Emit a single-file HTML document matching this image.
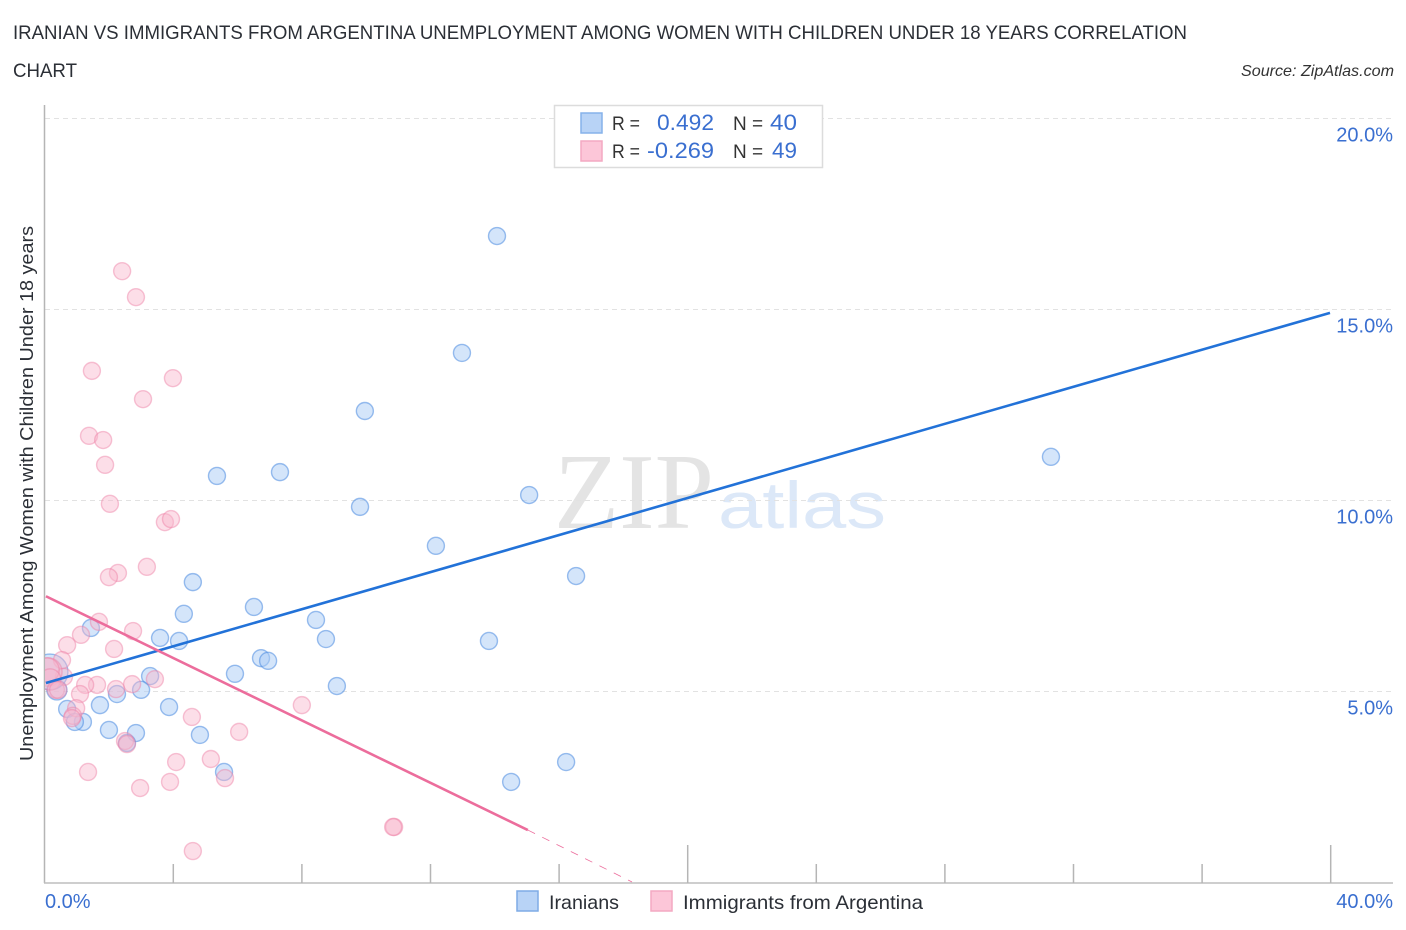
<!DOCTYPE html>
<html lang="en">
<head>
<meta charset="utf-8">
<title>Iranian vs Immigrants from Argentina Unemployment Chart</title>
<style>
html,body{margin:0;padding:0;background:#fff;width:1406px;height:930px;overflow:hidden}
svg{display:block;font-family:"Liberation Sans",sans-serif}
</style>
</head>
<body>
<svg id="chart" xmlns="http://www.w3.org/2000/svg" width="1406" height="930" viewBox="0 0 1406 930">
  <defs><clipPath id="plot-clip"><rect x="45" y="100" width="1350" height="782"/></clipPath></defs>
  <text x="13" y="39" font-size="19" fill="#2b2f36" textLength="1174" lengthAdjust="spacingAndGlyphs">IRANIAN VS IMMIGRANTS FROM ARGENTINA UNEMPLOYMENT AMONG WOMEN WITH CHILDREN UNDER 18 YEARS CORRELATION</text>
  <text x="13" y="77" font-size="19" fill="#2b2f36" textLength="64" lengthAdjust="spacingAndGlyphs">CHART</text>
  <text x="1241" y="76" font-size="16" font-style="italic" fill="#333" textLength="153" lengthAdjust="spacingAndGlyphs">Source: ZipAtlas.com</text>
  <text x="554" y="528" font-family="'Liberation Serif',serif" font-size="108" fill="#e4e4e4" textLength="160" lengthAdjust="spacingAndGlyphs">ZIP</text>
  <text x="718" y="528" font-family="'Liberation Sans',sans-serif" font-size="66" fill="#dce8f8" textLength="168" lengthAdjust="spacingAndGlyphs">atlas</text>
  <g id="grid"></g>
  <g id="axes"></g>
  <g id="blue-points" clip-path="url(#plot-clip)"></g>
  <g id="pink-points" clip-path="url(#plot-clip)"></g>
  <g id="trends"></g>
  <g>
    <rect x="554.5" y="105.5" width="268" height="62" fill="#fff" stroke="#dcdcdc" stroke-width="1.5"/>
    <rect x="581" y="113" width="21" height="20" fill="#b8d3f6" stroke="#86b2ea" stroke-width="1.5"/>
    <rect x="581" y="141" width="21" height="20" fill="#fcc6d8" stroke="#f4a9c2" stroke-width="1.5"/>
    <text x="612" y="130" font-size="19" fill="#333" textLength="28" lengthAdjust="spacingAndGlyphs">R =</text>
    <text x="657" y="130" font-size="22" fill="#3a6fd0" textLength="57" lengthAdjust="spacingAndGlyphs">0.492</text>
    <text x="733" y="130" font-size="19" fill="#333">N =</text>
    <text x="770" y="130" font-size="22" fill="#3a6fd0" textLength="27" lengthAdjust="spacingAndGlyphs">40</text>
    <text x="612" y="158" font-size="19" fill="#333" textLength="28" lengthAdjust="spacingAndGlyphs">R =</text>
    <text x="647" y="158" font-size="22" fill="#3a6fd0" textLength="67" lengthAdjust="spacingAndGlyphs">-0.269</text>
    <text x="733" y="158" font-size="19" fill="#333">N =</text>
    <text x="772" y="158" font-size="22" fill="#3a6fd0" textLength="25" lengthAdjust="spacingAndGlyphs">49</text>
  </g>
  <g>
    <rect x="517" y="891" width="21" height="20" fill="#b8d3f6" stroke="#7fabe6" stroke-width="1.5"/>
    <text x="549" y="909" font-size="19.5" fill="#2b2f36" textLength="70" lengthAdjust="spacingAndGlyphs">Iranians</text>
    <rect x="651" y="891" width="21" height="20" fill="#fcc6d8" stroke="#f4a9c2" stroke-width="1.5"/>
    <text x="683" y="909" font-size="19.5" fill="#2b2f36" textLength="240" lengthAdjust="spacingAndGlyphs">Immigrants from Argentina</text>
  </g>
  <text transform="translate(33,761) rotate(-90)" font-size="18.5" fill="#2b2f36" textLength="535" lengthAdjust="spacingAndGlyphs">Unemployment Among Women with Children Under 18 years</text>
</svg>
<script>
const yTickValues = [5, 10, 15, 20];
const yTickLabels = ["5.0%", "10.0%", "15.0%", "20.0%"];
const xTickValues = [0, 4, 8, 12, 16, 20, 24, 28, 32, 36, 40];
const xMajorTicks = [20, 40];
const xEndValues = [0, 40];
const xEndLabels = ["0.0%", "40.0%"];

const iranianX = [14.09,13.00,9.98,31.32,5.38,7.34,15.09,9.83,12.19,16.55,4.63,6.53,4.35,8.46,1.46,8.77,3.61,4.20,13.84,6.75,6.97,5.94,9.11,3.30,3.02,2.27,0.40,3.89,1.74,0.72,1.21,0.96,2.02,2.86,4.85,2.58,5.60,14.53,16.24,0.19];
const iranianY = [16.91,13.85,12.33,11.13,10.63,10.73,10.13,9.82,8.80,8.01,7.85,7.20,7.02,6.86,6.65,6.36,6.39,6.31,6.31,5.86,5.79,5.45,5.13,5.39,5.03,4.92,5.03,4.58,4.63,4.53,4.19,4.19,3.98,3.90,3.85,3.64,2.88,2.62,3.14,5.50];
const iranianWeight = [1,1,1,1,1,1,1,1,1,1,1,1,1,1,1,1,1,1,1,1,1,1,1,1,1,1,1.4,1,1,1,1,1,1,1,1,1,1,1,1,4.4];

const argentinaX = [2.43,2.86,1.49,4.01,3.08,1.40,1.84,1.90,2.05,3.76,3.95,3.20,2.30,2.02,1.71,2.77,1.15,0.72,2.18,0.56,0.62,3.45,2.74,1.65,1.28,2.24,1.12,8.02,4.60,1.00,0.90,0.87,6.07,2.52,2.58,5.19,4.11,1.37,5.63,3.92,2.99,10.89,10.86,4.63,0.12,0.10,0.19,0.37,0.44];
const argentinaY = [15.99,15.31,13.38,13.19,12.64,11.68,11.57,10.92,9.90,9.42,9.50,8.25,8.09,7.98,6.81,6.57,6.47,6.20,6.10,5.81,5.37,5.31,5.18,5.16,5.16,5.05,4.92,4.63,4.32,4.55,4.35,4.29,3.93,3.69,3.61,3.22,3.14,2.88,2.72,2.62,2.46,1.44,1.44,0.81,5.50,5.55,5.30,5.03,5.03];
const argentinaWeight = [1,1,1,1,1,1,1,1,1,1,1,1,1,1,1,1,1,1,1,1,1,1,1,1,1,1,1,1,1,1,1,1,1,1,1,1,1,1,1,1,1,1,1,1,2.8,2,1.6,1,1];

const iranianTrendX = [0.06, 40];
const iranianTrendY = [5.21, 14.9];
const argentinaTrendX = [0.06, 15.05];
const argentinaTrendY = [7.48, 1.36];
const argentinaDashX = [15.05, 18.29];
const argentinaDashY = [1.36, 0];

const NS = 'http://www.w3.org/2000/svg';
const sx = v => 44 + v * 32.15;
const sy = v => 882 - v * 38.2;
const rOf = w => 8.5 * Math.sqrt(w);

function make(parent, tag, attrs, text) {
  const el = document.createElementNS(NS, tag);
  for (const k in attrs) el.setAttribute(k, attrs[k]);
  if (text !== undefined) el.textContent = text;
  parent.appendChild(el);
  return el;
}

const gridG = document.getElementById('grid');
const axesG = document.getElementById('axes');

yTickValues.forEach((v, i) => {
  const line = make(gridG, 'line', {x1: 45, x2: 1393, y1: sy(v) + 0.5, y2: sy(v) + 0.5, stroke: '#e2e2e2', 'stroke-width': 1, 'stroke-dasharray': '5 4'});
  
  
  const label = make(axesG, 'text', {x: 1393, y: sy(v) + 23.5, 'font-size': 20, fill: '#3a6fd0', 'text-anchor': 'end'}, yTickLabels[i]);
  
  
});

const yAxis = make(axesG, 'line', {x1: 44.5, x2: 44.5, y1: 105, y2: 883, stroke: '#b5b5b5', 'stroke-width': 1.5});


const xAxis = make(axesG, 'line', {x1: 44, x2: 1393, y1: 883, y2: 883, stroke: '#bdbdbd', 'stroke-width': 1.5});



xTickValues.forEach(v => {
  if (v === 0) return;
  const top = xMajorTicks.includes(v) ? 845 : 864;
  const tick = make(axesG, 'line', {x1: sx(v) + 0.7, x2: sx(v) + 0.7, y1: top, y2: 883, stroke: '#b5b5b5', 'stroke-width': 1.5});
  
  
});

xEndValues.forEach((v, i) => {
  const attrs = v === 0
    ? {x: sx(v) + 1, y: 908, 'font-size': 20, fill: '#3a6fd0'}
    : {x: 1393, y: 908, 'font-size': 20, fill: '#3a6fd0', 'text-anchor': 'end'};
  const label = make(axesG, 'text', attrs, xEndLabels[i]);
  
  
});

const blueG = document.getElementById('blue-points');
iranianX.forEach((x, i) => {
  const dot = make(blueG, 'circle', {cx: sx(x), cy: sy(iranianY[i]), r: rOf(iranianWeight[i]), fill: '#a9cbf5', 'fill-opacity': 0.5, stroke: '#4a8ae0', 'stroke-opacity': 0.55, 'stroke-width': 1.4});
  
  
});

const pinkG = document.getElementById('pink-points');
argentinaX.forEach((x, i) => {
  const dot = make(pinkG, 'circle', {cx: sx(x), cy: sy(argentinaY[i]), r: rOf(argentinaWeight[i]), fill: '#f9b6cc', 'fill-opacity': 0.45, stroke: '#ee7ea3', 'stroke-opacity': 0.45, 'stroke-width': 1.4});
  
  
});

const trendG = document.getElementById('trends');
const blueTrend = make(trendG, 'line', {x1: sx(iranianTrendX[0]), y1: sy(iranianTrendY[0]), x2: sx(iranianTrendX[1]), y2: sy(iranianTrendY[1]), stroke: '#2272d8', 'stroke-width': 2.6});


const pinkTrend = make(trendG, 'line', {x1: sx(argentinaTrendX[0]), y1: sy(argentinaTrendY[0]), x2: sx(argentinaTrendX[1]), y2: sy(argentinaTrendY[1]), stroke: '#ec6d9c', 'stroke-width': 2.6});


const pinkDash = make(trendG, 'line', {x1: sx(argentinaDashX[0]), y1: sy(argentinaDashY[0]), x2: sx(argentinaDashX[1]), y2: sy(argentinaDashY[1]), stroke: '#ec6d9c', 'stroke-width': 0.8, 'stroke-dasharray': '8 8'});


</script>
</body>
</html>
